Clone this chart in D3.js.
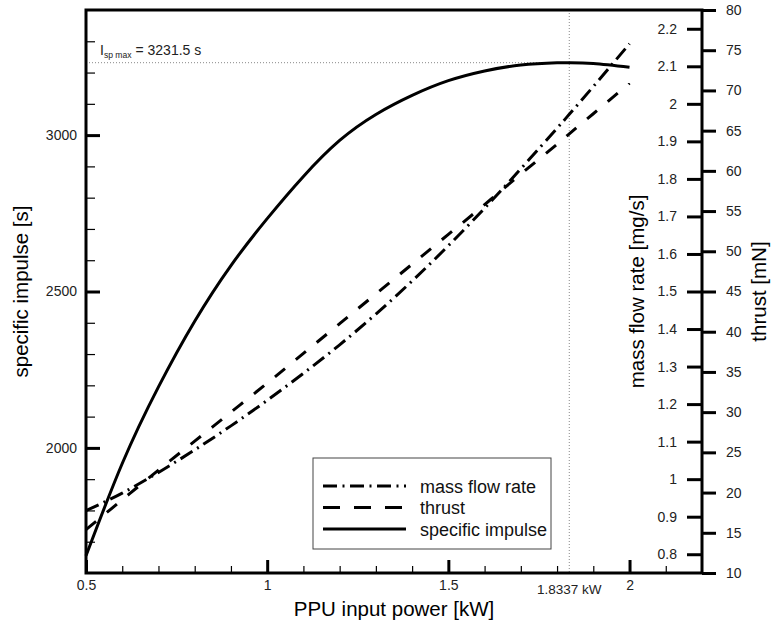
<!DOCTYPE html>
<html>
<head>
<meta charset="utf-8">
<script src="https://cdn.jsdelivr.net/npm/d3@7"></script>
<style>
  body { margin: 0; background: #fff; }
  svg { display: block; font-family: "Liberation Sans", Arial, sans-serif; }
  .tick text { fill: #222; font-size: 14px; }
</style>
</head>
<body>
<div id="chart"></div>
<script>
// values
var powerKW   = [0.5, 0.6, 0.7, 0.8, 0.9, 1.0, 1.1, 1.2, 1.3, 1.4, 1.5, 1.6, 1.7, 1.8, 1.8337, 1.9, 2.0];
var ispS      = [1655, 1950, 2195, 2405, 2583, 2733, 2868, 2983, 3066, 3127, 3174, 3205, 3224, 3231, 3231.5, 3229, 3217];
var massFlow  = [0.916, 0.963, 1.018, 1.078, 1.142, 1.21, 1.282, 1.358, 1.44, 1.528, 1.622, 1.722, 1.827, 1.935, 1.972, 2.046, 2.16];
var thrustMN  = [15.4, 19.1, 22.8, 26.4, 30.0, 33.6, 37.3, 41.0, 44.7, 48.4, 52.1, 55.8, 59.6, 63.3, 64.6, 67.1, 70.9];

var optPower = 1.8337, ispMax = 3231.5;

var xMajor = [0.5, 1, 1.5, 2];
var xMinor = [0.6, 0.7, 0.8, 0.9, 1.1, 1.2, 1.3, 1.4, 1.6, 1.7, 1.8, 1.9, 2.1];
var ispMajor = [2000, 2500, 3000];
var ispMinor = [1700, 1800, 1900, 2100, 2200, 2300, 2400, 2600, 2700, 2800, 2900, 3100, 3200, 3300];
var mdotTicks = [0.8, 0.9, 1, 1.1, 1.2, 1.3, 1.4, 1.5, 1.6, 1.7, 1.8, 1.9, 2, 2.1, 2.2];
var thrustTicks = [10, 15, 20, 25, 30, 35, 40, 45, 50, 55, 60, 65, 70, 75, 80];

var legendItems = [
  {label: 'mass flow rate', dash: '14,5.5,2,5.5'},
  {label: 'thrust', dash: '17,14'},
  {label: 'specific impulse', dash: null}
];

var w = 771, h = 626;
var pL = 86, pR = 702, pT = 10, pB = 573;

var x = d3.scaleLinear().domain([0.5, 2.2]).range([pL, pR]);
var yIsp = d3.scaleLinear().domain([1600, 3400]).range([pB, pT]);
var yMdot = d3.scaleLinear().domain([0.75, 2.25]).range([pB, pT]);
var yThrust = d3.scaleLinear().domain([10, 80]).range([pB, pT]);

var svg = d3.select('#chart').append('svg')
  .attr('width', w)
  .attr('height', h);

svg.append('rect').attr('width', w).attr('height', h).attr('fill', '#fff');

// guide lines for the Isp maximum
svg.append('line')
  .attr('x1', x(optPower)).attr('x2', x(optPower))
  .attr('y1', pT).attr('y2', pB)
  .attr('stroke', '#888').attr('stroke-width', 1).attr('stroke-dasharray', '1,2');
svg.append('line')
  .attr('x1', pL).attr('x2', x(optPower))
  .attr('y1', yIsp(ispMax)).attr('y2', yIsp(ispMax))
  .attr('stroke', '#888').attr('stroke-width', 1).attr('stroke-dasharray', '1,2');

var ann = svg.append('text')
  .attr('x', 100).attr('y', 55)
  .attr('font-size', 14).attr('fill', '#222');
ann.append('tspan').text('I');
ann.append('tspan').attr('font-size', 8.6).attr('dy', 3).text('sp max');
ann.append('tspan').attr('dy', -3).text(' = ' + ispMax + ' s');

// curves
function line(ys, scale) {
  return d3.line()
    .x(function (d, i) { return x(powerKW[i]); })
    .y(function (d) { return scale(d); })
    .curve(d3.curveNatural)(ys);
}

svg.append('path')
  .attr('d', line(massFlow, yMdot))
  .attr('fill', 'none').attr('stroke', '#000').attr('stroke-width', 3)
  .attr('stroke-dasharray', '14,5.5,2,5.5');
svg.append('path')
  .attr('d', line(thrustMN, yThrust))
  .attr('fill', 'none').attr('stroke', '#000').attr('stroke-width', 3)
  .attr('stroke-dasharray', '13,14');
svg.append('path')
  .attr('d', line(ispS, yIsp))
  .attr('fill', 'none').attr('stroke', '#000').attr('stroke-width', 3);

// axes
function clean(g) {
  g.select('.domain').remove();
  g.selectAll('.tick line').attr('stroke', '#000');
}

svg.append('g')
  .attr('transform', 'translate(0,' + pB + ')')
  .call(d3.axisBottom(x).tickValues(xMinor).tickSize(-7).tickFormat(''))
  .call(clean)
  .selectAll('.tick line').attr('stroke-width', 1.2);
svg.append('g')
  .attr('transform', 'translate(0,' + pB + ')')
  .call(d3.axisBottom(x).tickValues(xMajor).tickSize(-13).tickPadding(7).tickFormat(d3.format('~g')))
  .call(clean)
  .selectAll('.tick line').attr('stroke-width', 3);

svg.append('text')
  .attr('x', x(optPower)).attr('y', 593.5)
  .attr('text-anchor', 'middle').attr('font-size', 13.5).attr('fill', '#222')
  .text(optPower + ' kW');

svg.append('g')
  .attr('transform', 'translate(' + pL + ',0)')
  .call(d3.axisLeft(yIsp).tickValues(ispMinor).tickSize(-9).tickFormat(''))
  .call(clean)
  .selectAll('.tick line').attr('stroke-width', 1.2);
svg.append('g')
  .attr('transform', 'translate(' + pL + ',0)')
  .call(d3.axisLeft(yIsp).tickValues(ispMajor).tickSize(-14).tickPadding(9).tickFormat(d3.format('d')))
  .call(clean)
  .selectAll('.tick line').attr('stroke-width', 3);

svg.append('g')
  .attr('transform', 'translate(' + pR + ',0)')
  .call(d3.axisLeft(yMdot).tickValues(mdotTicks).tickSize(15).tickPadding(10).tickFormat(function (d) { return String(d); }))
  .call(clean)
  .selectAll('.tick line').attr('stroke-width', 3);

svg.append('g')
  .attr('transform', 'translate(' + pR + ',0)')
  .call(d3.axisRight(yThrust).tickValues(thrustTicks).tickSize(14).tickPadding(10))
  .call(clean)
  .selectAll('.tick line').attr('stroke-width', 3);

// frame
svg.append('path')
  .attr('d', 'M' + pL + ',' + pT + 'H' + pR + 'V' + pB + 'H' + pL + 'Z')
  .attr('fill', 'none').attr('stroke', '#000').attr('stroke-width', 3);

// axis titles
var midY = (pT + pB) / 2;
svg.append('text')
  .attr('transform', 'translate(28,' + midY + ') rotate(-90)')
  .attr('text-anchor', 'middle').attr('font-size', 20.5)
  .text('specific impulse [s]');
svg.append('text')
  .attr('transform', 'translate(644,' + midY + ') rotate(-90)')
  .attr('text-anchor', 'middle').attr('font-size', 20.5)
  .text('mass flow rate [mg/s]');
svg.append('text')
  .attr('transform', 'translate(766,' + midY + ') rotate(-90)')
  .attr('text-anchor', 'middle').attr('font-size', 20.5)
  .text('thrust [mN]');
svg.append('text')
  .attr('x', (pL + pR) / 2).attr('y', 616)
  .attr('text-anchor', 'middle').attr('font-size', 20.5)
  .text('PPU input power [kW]');

// legend
var lg = svg.append('g').attr('transform', 'translate(313,458)');
lg.append('rect')
  .attr('width', 238).attr('height', 91)
  .attr('fill', '#fff').attr('stroke', '#444').attr('stroke-width', 1);
var row = lg.selectAll('g.item')
  .data(legendItems)
  .enter()
  .append('g')
    .attr('class', 'item')
    .attr('transform', function (d, i) { return 'translate(0,' + (28 + i * 21.5) + ')'; });
row.append('line')
  .attr('x1', 10).attr('x2', 93)
  .attr('stroke', '#000').attr('stroke-width', 3)
  .attr('stroke-dasharray', function (d) { return d.dash; });
row.append('text')
  .attr('x', 107).attr('y', 6.5)
  .attr('font-size', 18).attr('fill', '#111')
  .text(function (d) { return d.label; });
</script>
</body>
</html>
